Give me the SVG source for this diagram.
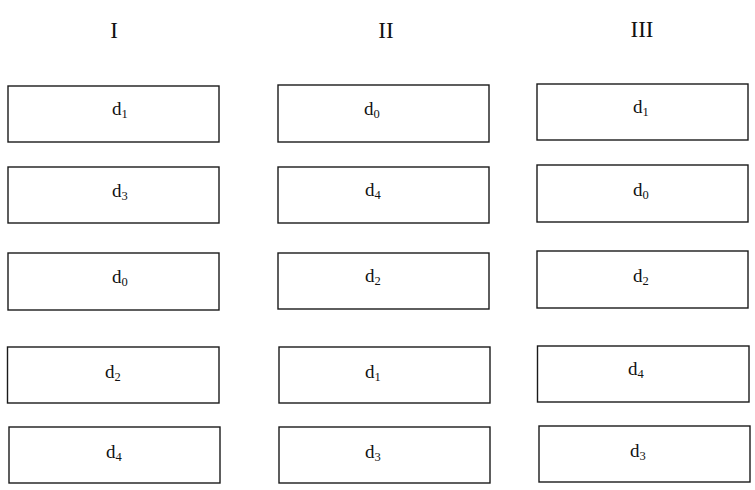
<svg xmlns="http://www.w3.org/2000/svg" width="755" height="490" viewBox="0 0 755 490">
<style>
.box{fill:#fff;stroke:#1a1a1a;stroke-width:1.4}
.lbl{font-family:"Liberation Serif","Times New Roman",serif;font-size:19px;fill:#111}
.sub{font-size:12.5px}
.hdr{font-family:"Liberation Serif","Times New Roman",serif;font-size:23px;fill:#111;text-anchor:middle}
</style>
<rect width="755" height="490" fill="#fff"/>
<g id="headers">
<text class="hdr" x="114" y="38">I</text>
<text class="hdr" x="386" y="38">II</text>
<text class="hdr" x="642" y="37">III</text>
</g>
<g id="connectors"></g>
<g id="I-1"><rect class="box" x="8" y="86" width="211" height="56"/><text class="lbl" x="112" y="115">d<tspan class="sub" dy="3">1</tspan></text></g>
<g id="I-2"><rect class="box" x="8" y="167" width="211" height="56"/><text class="lbl" x="112" y="197">d<tspan class="sub" dy="3">3</tspan></text></g>
<g id="I-3"><rect class="box" x="8" y="253" width="211" height="57"/><text class="lbl" x="112" y="283">d<tspan class="sub" dy="3">0</tspan></text></g>
<g id="I-4"><rect class="box" x="7.5" y="347" width="211.5" height="56"/><text class="lbl" x="105" y="378">d<tspan class="sub" dy="3">2</tspan></text></g>
<g id="I-5"><rect class="box" x="9" y="427" width="211" height="56"/><text class="lbl" x="106" y="458">d<tspan class="sub" dy="3">4</tspan></text></g>
<g id="II-1"><rect class="box" x="278" y="85" width="211" height="57"/><text class="lbl" x="364" y="115">d<tspan class="sub" dy="3">0</tspan></text></g>
<g id="II-2"><rect class="box" x="278" y="167" width="211" height="56"/><text class="lbl" x="365" y="196">d<tspan class="sub" dy="3">4</tspan></text></g>
<g id="II-3"><rect class="box" x="278" y="253" width="211" height="56"/><text class="lbl" x="365" y="282">d<tspan class="sub" dy="3">2</tspan></text></g>
<g id="II-4"><rect class="box" x="279" y="347" width="211" height="56"/><text class="lbl" x="365" y="378">d<tspan class="sub" dy="3">1</tspan></text></g>
<g id="II-5"><rect class="box" x="279" y="427" width="211" height="56"/><text class="lbl" x="365" y="458">d<tspan class="sub" dy="3">3</tspan></text></g>
<g id="III-1"><rect class="box" x="537" y="84" width="211" height="56"/><text class="lbl" x="633" y="113">d<tspan class="sub" dy="3">1</tspan></text></g>
<g id="III-2"><rect class="box" x="537" y="165" width="211" height="57"/><text class="lbl" x="633" y="196">d<tspan class="sub" dy="3">0</tspan></text></g>
<g id="III-3"><rect class="box" x="537" y="251" width="211" height="57"/><text class="lbl" x="633" y="282">d<tspan class="sub" dy="3">2</tspan></text></g>
<g id="III-4"><rect class="box" x="537.5" y="346" width="211.5" height="56"/><text class="lbl" x="628" y="375">d<tspan class="sub" dy="3">4</tspan></text></g>
<g id="III-5"><rect class="box" x="539" y="426" width="211" height="56"/><text class="lbl" x="630" y="457">d<tspan class="sub" dy="3">3</tspan></text></g>
</svg>
